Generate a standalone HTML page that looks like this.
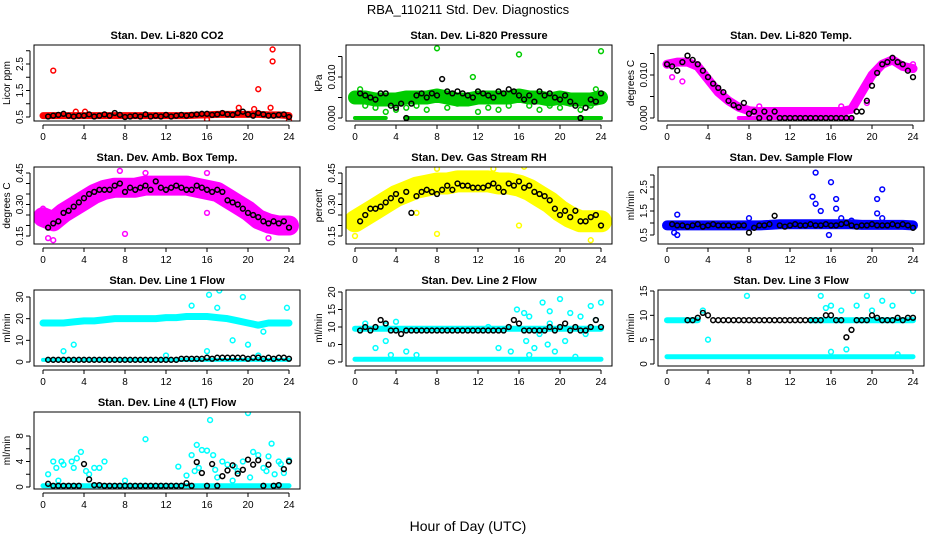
<!DOCTYPE html>
<html><head><meta charset="utf-8"><style>
html,body{margin:0;padding:0;background:#fff;}
svg{display:block;font-family:"Liberation Sans",sans-serif;}
</style></head><body>
<svg id="chart" width="936" height="540" viewBox="0 0 936 540">
<text x="468" y="14" text-anchor="middle" font-size="13">RBA_110211  Std. Dev. Diagnostics</text>
<text x="468" y="531" text-anchor="middle" font-size="14">Hour of Day (UTC)</text>
</svg>
<script>
const co2Black=[null,0.52,0.55,0.58,0.62,0.55,0.52,0.55,0.55,0.6,0.52,0.55,0.6,0.55,0.65,0.58,0.5,0.52,0.55,0.52,0.6,0.52,0.55,0.52,0.58,0.52,0.55,0.58,0.55,0.58,0.6,0.62,0.62,0.58,0.6,0.65,0.6,0.58,0.65,0.7,0.6,0.55,0.65,0.6,0.55,0.55,0.58,0.6,0.5];
const co2Band=[0.55,0.55,0.55,0.55,0.55,0.55,0.55,0.55,0.55,0.55,0.55,0.55,0.55,0.55,0.55,0.57,0.58,0.6,0.6,0.6,0.6,0.6,0.58,0.58,0.55];
const co2Out=[[1,2.25],[19.1,0.85],[20.6,0.8],[21,1.55],[22.2,0.85],[22.4,3.05],[22.4,2.6],[24,0.38],[16,0.4],[3.2,0.7],[4.1,0.7]];

const presBlack=[null,0.006,0.0055,0.005,0.0045,0.006,0.006,0.003,0.0025,0.0035,0,0.0035,0.0055,0.006,0.005,0.006,0.0055,0.0095,0.0065,0.006,0.0065,0.006,0.0055,0.005,0.0065,0.006,0.0055,0.005,0.0065,0.006,0.007,0.0065,0.0055,0.0045,0.0055,0.004,0.0065,0.0055,0.006,0.005,0.0045,0.0055,0.004,0.003,0,0.0025,0.0045,0.004,0.006];
const presBand=[0.005,0.005,0.0045,0.0045,0.0045,0.005,0.005,0.005,0.0055,0.005,0.0045,0.0045,0.005,0.005,0.005,0.005,0.0055,0.005,0.005,0.0045,0.005,0.0045,0.0045,0.0045,0.005];
const presZero=[0,0,0,0,null,0,0,0,0,0,0,0,0,0,0,0,0,0,0,0,0,0,0,0,0];
const presOut=[[8,0.017],[16,0.0155],[24,0.0163],[11.5,0.01],[1,0.003],[2,0.0025],[3,0.0015],[4,0.002],[5,0.0025],[6,0.003],[7,0.002],[9,0.0025],[10,0.0035],[13,0.0025],[14,0.002],[15,0.003],[17,0.003],[18,0.002],[19,0.003],[20,0.0025],[21,0.0035],[22,0.002],[23,0.003],[12,0.0015],[0.5,0.007],[23.5,0.007]];

const tempBlack=[0.0125,0.012,0.011,0.013,0.0145,0.0135,0.0125,0.011,0.0095,0.008,0.007,0.006,0.004,0.003,0.0025,0.0035,0.001,0.0015,0,0.0015,0,0.0015,0,0,0,0,0,0,0,0,0,0,0,0,0,0,0,0.0015,0.0015,0.004,0.0075,0.0105,0.0125,0.013,0.014,0.013,0.0125,0.011,0.0095];
const tempBand=[0.0125,0.013,0.013,0.012,0.009,0.006,0.004,0.0025,0.0017,0.0015,0.0015,0.0015,0.0015,0.0015,0.0015,0.0015,0.0015,0.0015,0.002,0.006,0.01,0.0125,0.0135,0.012,0.0115];
const tempZero=[null,null,null,null,null,null,null,0,0,0,0,0,0,0,0,0,0,0,0,null,null,null,null,null,null];
const tempOut=[[0.5,0.0095],[1.5,0.0085],[3,0.0125],[9,0.0027],[17,0.0027],[19.5,0.0035],[24,0.0125]];

const ambBlack=[null,0.19,0.21,0.22,0.26,0.27,0.29,0.31,0.33,0.35,0.36,0.37,0.37,0.37,0.39,0.4,0.36,0.38,0.37,0.38,0.39,0.37,0.41,0.38,0.37,0.38,0.39,0.38,0.37,0.37,0.39,0.38,0.37,0.36,0.37,0.36,0.32,0.31,0.3,0.28,0.26,0.25,0.24,0.22,0.21,0.22,0.21,0.22,0.19];
const ambBand=[0.24,0.22,0.26,0.29,0.32,0.35,0.37,0.38,0.38,0.38,0.39,0.39,0.39,0.39,0.39,0.38,0.37,0.36,0.33,0.3,0.27,0.23,0.21,0.2,0.2];
const ambOut=[[0,0.28],[0.5,0.14],[8,0.16],[7.5,0.46],[16,0.26],[22,0.14],[1,0.13],[16,0.45],[10,0.45]];

const rhBlack=[null,0.22,0.25,0.28,0.28,0.29,0.31,0.33,0.35,0.32,0.36,0.26,0.34,0.36,0.37,0.36,0.35,0.37,0.39,0.37,0.4,0.39,0.39,0.38,0.38,0.38,0.39,0.4,0.38,0.36,0.4,0.39,0.41,0.38,0.39,0.36,0.35,0.34,0.32,0.28,0.25,0.27,0.24,0.27,0.22,0.22,0.24,0.25,0.2];
const rhBand=[0.22,0.25,0.28,0.31,0.34,0.36,0.38,0.39,0.4,0.4,0.41,0.41,0.41,0.41,0.4,0.4,0.39,0.37,0.34,0.31,0.27,0.24,0.22,0.22,0.22];
const rhOut=[[8,0.47],[8,0.16],[16,0.2],[16.5,0.48],[6,0.26],[23,0.13],[0,0.15],[13.5,0.47]];

const flowBlack=[null,0.95,0.9,0.9,0.85,0.9,0.95,0.85,0.9,0.95,0.9,0.9,0.9,0.85,0.9,0.9,0.6,0.8,0.9,0.9,0.95,1.3,0.9,0.85,0.9,0.95,0.9,0.9,0.95,0.9,0.9,0.95,0.9,0.9,0.95,1.0,0.9,0.85,0.9,0.9,0.95,0.9,0.9,0.9,0.95,0.9,0.95,0.9,0.8];
const flowBand=[0.9,0.9,0.9,0.9,0.9,0.9,0.9,0.9,0.9,0.9,0.92,0.95,0.95,0.95,0.95,0.95,0.95,0.95,0.95,0.92,0.92,0.92,0.92,0.92,0.9];
const flowOut=[[1,1.35],[1,0.5],[0.7,0.6],[14.5,3.1],[15,1.5],[14.2,2.1],[14.5,1.8],[16,2.7],[16.5,2.0],[16.5,1.6],[20.5,2.0],[21,2.4],[20.5,1.4],[15.8,0.5],[17,1.2],[8,1.2],[18,1.1],[21,1.2]];

const l1Black=[null,1,1,1,1,1,1,1,1,1,1,1,1,1,1,1,1,1,1,1,1,1,1,1,1,1,1,1.5,1.5,1.5,1.5,1.5,2,1.5,2,2,2,2,2,2,1.5,2,2,1.5,2,1.5,2,2,1.5];
const l1BandHi=[18,18,18,18.5,19,19,19.5,20,20,20,20,20,20.5,20.5,21,21,21,20.5,20,19,18,17,18,18,18];
const l1BandLo=[1,1,1,1,1,1,1,1,1,1,1,1,1,1,1,1,1,1,1,1,1,1,1,1,1];
const l1Out=[[15.8,35],[16.2,31],[17.2,33],[19.5,30],[23.8,25],[14.5,26],[17,25],[20,8],[18.5,10],[16,5],[21,3],[2,5],[3,8],[12,3],[21.5,14]];

const l2Black=[null,9,10,9,10,12,11,9,9,8,9,9,9,9,9,9,9,9,9,9,9,9,9,9,9,9,9,9,9,9,10,12,11,9,9,9,9,9,10,9,10,11,9,10,9,9,10,12,10];
const l2BandHi=[9.5,9.5,9.5,9.5,9.5,9.5,9.5,9.5,9.5,9.5,9.5,9.5,9.5,9.5,9.5,9.5,9.5,9.5,9.5,9.5,9.5,9.5,9.5,9.5,9.5];
const l2BandLo=[0.8,0.8,0.8,0.8,0.8,0.8,0.8,0.8,0.8,0.8,0.8,0.8,0.8,0.8,0.8,0.8,0.8,0.8,0.8,0.8,0.8,0.8,0.8,0.8,0.8];
const l2Out=[[2,4],[3,6],[3.5,2],[5,3],[6,2],[14,4],[15.2,3],[15.8,15],[16.5,14],[16.7,6],[17,13],[17.5,4],[18,8],[18.3,17],[19,11],[19.5,3],[20,18],[20.5,6],[21,14],[21.5,1.5],[22,13],[22.5,8],[23,16],[23.5,12],[24,17],[1,11],[4,11.5],[3,10.5],[13,10],[19,14.5],[17,2],[18.8,5]];

const l3Black=[null,null,null,null,9,9,9.5,10.5,10,9,9,9,9,9,9,9,9,9,9,9,9,9,9,9,9,9,9,9,9,9,9,10,10,9,9,5.5,7,9,9,9,10,9.5,9,9,9,9.5,9,9.5,9.5];
const l3BandHi=[9,9,9,9,null,null,null,null,null,null,null,null,null,null,9,9,9,9,9,9,9,9,9,9,9];
const l3BandLo=[1.5,1.5,1.5,1.5,1.5,1.5,1.5,1.5,1.5,1.5,1.5,1.5,1.5,1.5,1.5,1.5,1.5,1.5,1.5,1.5,1.5,1.5,1.5,1.5,1.5];
const l3Out=[[3.5,11],[7.8,14],[15,14],[15.5,11.5],[16,12],[17,11],[18.5,12],[19.5,14],[20,11],[21,13],[22,12],[24,15],[17.5,3],[16,2.5],[22.5,2],[4,5]];

const l4Black=[null,0.5,0.2,0.2,0.2,0.2,0.2,0.2,3.6,1.2,0.3,0.3,0.2,0.2,0.2,0.2,0.2,0.2,0.2,0.2,0.2,0.2,0.2,0.2,0.2,0.2,0.2,0.2,0.6,0.2,3.9,2.2,0.2,3.6,0.2,1.7,2.6,3.4,2.1,2.7,4.3,3.5,4.2,0.2,3.5,0.2,0.3,2.8,4.0];
const l4Band=[0.2,0.2,0.2,0.2,0.2,0.2,0.2,0.2,0.2,0.2,0.2,0.2,0.2,0.2,0.2,0.2,0.2,0.2,0.2,0.2,0.2,0.2,0.2,0.2,0.2];
const l4Out=[[0.5,2],[1,4],[1.3,3],[1.8,4],[2,3.5],[2.8,4],[3,3],[3.3,4.5],[3.7,5.5],[4.2,2.5],[4.5,2],[5,3],[5.5,3],[6,4],[1.5,1],[8,1],[10,7.5],[13.2,3.2],[14,1.8],[14.5,5],[15,6.6],[15.5,5.8],[16,5.7],[16.3,10.5],[16.6,5],[17,1.5],[17.5,4],[18,3.5],[18.5,1],[19,2.5],[19.5,4],[20,11.6],[20.2,1.5],[20.5,5.5],[21,5],[21.5,3],[22,4.8],[22.3,6.8],[22.6,2],[23,4],[23.5,2.2],[24,4.2],[14.8,2.5],[15.2,3],[18.7,3.2],[21.8,2.5],[23.2,3.6],[16.8,2.7]];

const xTicks=[0,4,8,12,16,20,24];

const NS="http://www.w3.org/2000/svg";
const svg=document.getElementById('chart');
function mk(tag,attrs,parent){const e=document.createElementNS(NS,tag);for(const k in attrs)e.setAttribute(k,attrs[k]);(parent||svg).appendChild(e);return e;}
const colL=[34,346,658];
const rowT=[45,167,290,412],rowB=[121,244,366,489];

const panels=[
 {name:'co2',title:'Stan. Dev. Li-820 CO2',ylab:'Licor ppm',c:0,r:0,color:'#ff0000',v0:0.5,p0:117,v1:2.5,p1:64,ticks:[0.5,1,1.5,2,2.5,3],labels:[0.5,1.5,2.5],fmt:1,black:co2Black,bands:[[co2Band,7]],out:co2Out},
 {name:'pressure',title:'Stan. Dev. Li-820 Pressure',ylab:'kPa',c:1,r:0,color:'#00cc00',v0:0,p0:118,v1:0.01,p1:77,ticks:[0,0.005,0.01,0.015],labels:[0,0.01],fmt:3,black:presBlack,bands:[[presBand,14],[presZero,4]],out:presOut},
 {name:'temp',title:'Stan. Dev. Li-820 Temp.',ylab:'degrees C',c:2,r:0,color:'#ff00ff',v0:0,p0:118,v1:0.01,p1:75,ticks:[0,0.005,0.01,0.015],labels:[0,0.01],fmt:3,black:tempBlack,bands:[[tempBand,9],[tempZero,4]],out:tempOut},
 {name:'amb-box',title:'Stan. Dev. Amb. Box Temp.',ylab:'degrees C',c:0,r:1,color:'#ff00ff',v0:0.15,p0:236,v1:0.45,p1:173,ticks:[0.15,0.2,0.25,0.3,0.35,0.4,0.45],labels:[0.15,0.3,0.45],fmt:2,black:ambBlack,bands:[[ambBand,20]],out:ambOut},
 {name:'gas-rh',title:'Stan. Dev. Gas Stream RH',ylab:'percent',c:1,r:1,color:'#ffff00',v0:0.15,p0:236,v1:0.45,p1:173,ticks:[0.15,0.2,0.25,0.3,0.35,0.4,0.45],labels:[0.15,0.3,0.45],fmt:2,black:rhBlack,bands:[[rhBand,22]],out:rhOut},
 {name:'sample-flow',title:'Stan. Dev. Sample Flow',ylab:'ml/min',c:2,r:1,color:'#0000ff',v0:0.5,p0:235,v1:2.5,p1:187,ticks:[0.5,1,1.5,2,2.5,3],labels:[0.5,1.5,2.5],fmt:1,black:flowBlack,bands:[[flowBand,10]],out:flowOut},
 {name:'line1',title:'Stan. Dev. Line 1 Flow',ylab:'ml/min',c:0,r:2,color:'#00ffff',v0:0,p0:362,v1:30,p1:297,ticks:[0,10,20,30],labels:[0,10,20,30],fmt:0,black:l1Black,bands:[[l1BandHi,7],[l1BandLo,4]],out:l1Out},
 {name:'line2',title:'Stan. Dev. Line 2 Flow',ylab:'ml/min',c:1,r:2,color:'#00ffff',v0:0,p0:362,v1:20,p1:292,ticks:[0,5,10,15,20],labels:[0,5,10,15,20],fmt:0,black:l2Black,bands:[[l2BandHi,6],[l2BandLo,5]],out:l2Out},
 {name:'line3',title:'Stan. Dev. Line 3 Flow',ylab:'ml/min',c:2,r:2,color:'#00ffff',v0:0,p0:364,v1:15,p1:291,ticks:[0,5,10,15],labels:[0,5,10,15],fmt:0,black:l3Black,bands:[[l3BandHi,6],[l3BandLo,5]],out:l3Out},
 {name:'line4',title:'Stan. Dev. Line 4 (LT) Flow',ylab:'ml/min',c:0,r:3,color:'#00ffff',v0:0,p0:487,v1:8,p1:436,ticks:[0,2,4,6,8],labels:[0,4,8],fmt:0,black:l4Black,bands:[[l4Band,5]],out:l4Out},
];

panels.forEach(p=>{
 const L=colL[p.c],R=L+266,T=rowT[p.r],B=rowB[p.r];
 const g=mk('g',{});
 
 
 const xs=h=>L+9+h*(246/24);
 const ys=v=>p.p0+(v-p.v0)*(p.p1-p.p0)/(p.v1-p.v0);
 const clip=mk('clipPath',{id:'clip-'+p.name},g);
 mk('rect',{x:L,y:T,width:266,height:B-T},clip);
 const plot=mk('g',{'clip-path':'url(#clip-'+p.name+')'},g);
 p.bands.forEach(([arr,w])=>{
  let seg=[];
  const flush=()=>{if(seg.length){if(seg.length===1)seg.push([seg[0][0]+3,seg[0][1]]);
   const pl=mk('polyline',{points:seg.map(q=>q.join(',')).join(' '),fill:'none',stroke:p.color,'stroke-width':w,'stroke-linejoin':'round','stroke-linecap':'round'},plot);
   
   }seg=[];};
  arr.forEach((v,i)=>{if(v===null){flush();}else seg.push([xs(i),ys(v)]);});
  flush();
 });
 p.out.forEach(([h,v])=>{
  const c=mk('circle',{cx:xs(h),cy:ys(v),r:2.4,fill:'none',stroke:p.color,'stroke-width':1.5},plot);
  
  
 });
 p.black.forEach((v,i)=>{
  if(v===null)return;
  const c=mk('circle',{cx:xs(i*0.5),cy:ys(v),r:2.4,fill:'none',stroke:'#000','stroke-width':1.5},plot);
  
  
 });
 const box=mk('rect',{x:L,y:T,width:266,height:B-T,fill:'none',stroke:'#000','stroke-width':1},g);
 
 
 const t=mk('text',{x:L+133,y:T-6,'text-anchor':'middle','font-size':11,'font-weight':'bold'},g);
 t.textContent=p.title;
 
 
 mk('line',{x1:xs(0),x2:xs(24),y1:B+4,y2:B+4,stroke:'#000'},g);
 xTicks.forEach(h=>{
  mk('line',{x1:xs(h),x2:xs(h),y1:B+4,y2:B+8,stroke:'#000'},g);
  const tl=mk('text',{x:xs(h),y:B+19,'text-anchor':'middle','font-size':10},g);
  tl.textContent=h;
  
  
 });
 const yt=p.ticks.filter(v=>ys(v)>=T-1&&ys(v)<=B+1);
 mk('line',{x1:L-4,x2:L-4,y1:ys(yt[0]),y2:ys(yt[yt.length-1]),stroke:'#000'},g);
 yt.forEach(v=>mk('line',{x1:L-8,x2:L-4,y1:ys(v),y2:ys(v),stroke:'#000'},g));
 p.labels.forEach(v=>{
  const y=ys(v);
  const tl=mk('text',{x:L-11,y:y,'text-anchor':'middle','font-size':10,transform:'rotate(-90 '+(L-11)+' '+y+')'},g);
  tl.textContent=v.toFixed(p.fmt);
  
  
 });
 const yl=mk('text',{x:L-24,y:(T+B)/2,'text-anchor':'middle','font-size':10,transform:'rotate(-90 '+(L-24)+' '+((T+B)/2)+')'},g);
 yl.textContent=p.ylab;
 
 
});
</script>
</body></html>
